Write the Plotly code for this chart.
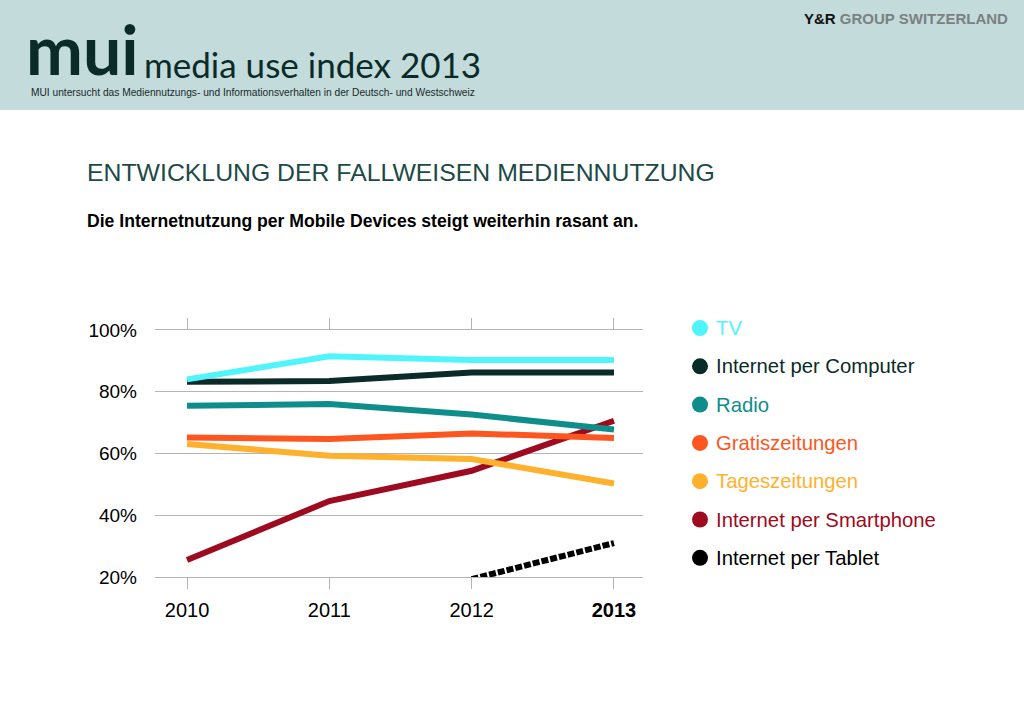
import plotly.graph_objects as go

years = [2010, 2011, 2012, 2013]
year_labels = ["2010", "2011", "2012", "<b>2013</b>"]

series_names = ["TV", "Internet per Computer", "Radio", "Gratiszeitungen",
                "Tageszeitungen", "Internet per Smartphone", "Internet per Tablet"]
tv = [84, 91.5, 90.3, 90.3]
computer = [83.2, 83.5, 86.2, 86.2]
radio = [75.5, 76, 72.6, 67.8]
gratis = [65.2, 64.7, 66.5, 65]
tages = [63.1, 59.3, 58.2, 50.3]
smartphone = [25.5, 44.6, 54.4, 70.6]
tablet = [None, None, 19.3, 31]
series_values = [tv, computer, radio, gratis, tages, smartphone, tablet]
series_colors = ["#4ff5fb", "#0b2b29", "#0e8d8a", "#fd5620", "#ffb12d", "#9e0a20", "#000000"]

y_ticks = [20, 40, 60, 80, 100]
y_tick_labels = ["20%", "40%", "60%", "80%", "100%"]

W, H = 1024, 723
L, R, T, B = 155, 643, 330, 577


def px(x):
    return (x - L) / (R - L)


def py(y):
    return (B - y) / (B - T)


fig = go.Figure()
for i in reversed(range(len(series_names))):
    dash = "7px,2px" if series_names[i] == "Internet per Tablet" else "solid"
    fig.add_trace(go.Scatter(
        x=years, y=series_values[i], mode="lines", name=series_names[i],
        line=dict(color=series_colors[i], width=6, dash=dash),
        showlegend=False, connectgaps=False, hoverinfo="skip"))

shapes = [
    dict(type="rect", xref="paper", yref="paper", x0=px(-5), x1=px(W + 5), y0=py(-5), y1=py(110),
         fillcolor="#c3dbdb", line=dict(width=0), layer="below"),
]
annotations = [
    dict(text="<b>mui</b>", x=px(24), y=py(48), xanchor="left", yanchor="middle",
         font=dict(family="Lato", size=68, color="#0b2b29"), showarrow=False,
         xref="paper", yref="paper"),
    dict(text="media use index 2013", x=px(142), y=py(64), xanchor="left", yanchor="middle",
         font=dict(family="Lato", size=35, color="#0b2b29"), showarrow=False,
         xref="paper", yref="paper"),
    dict(text="MUI untersucht das Mediennutzungs- und Informationsverhalten in der Deutsch- und Westschweiz",
         x=px(29), y=py(92), xanchor="left", yanchor="middle",
         font=dict(family="Liberation Sans", size=10.2, color="#1a2a2a"), showarrow=False,
         xref="paper", yref="paper"),
    dict(text="<b>Y&amp;R</b> <b><span style='color:#7b8182'>GROUP SWITZERLAND</span></b>",
         x=px(1010), y=py(18), xanchor="right", yanchor="middle",
         font=dict(family="Liberation Sans", size=15, color="#111111"), showarrow=False,
         xref="paper", yref="paper"),
    dict(text="ENTWICKLUNG DER FALLWEISEN MEDIENNUTZUNG", x=px(85), y=py(172),
         xanchor="left", yanchor="middle",
         font=dict(family="Liberation Sans", size=24.8, color="#1d4a47"), showarrow=False,
         xref="paper", yref="paper"),
    dict(text="<b>Die Internetnutzung per Mobile Devices steigt weiterhin rasant an.</b>",
         x=px(85), y=py(221), xanchor="left", yanchor="middle",
         font=dict(family="Liberation Sans", size=17.6, color="#000000"), showarrow=False,
         xref="paper", yref="paper"),
]

leg_y0, leg_dy = 328, 38.3
for i, name in enumerate(series_names):
    yy = leg_y0 + i * leg_dy
    shapes.append(dict(type="circle", xref="paper", yref="paper",
                       x0=px(692), x1=px(708), y0=py(yy + 8), y1=py(yy - 8),
                       fillcolor=series_colors[i], line=dict(width=0)))
    annotations.append(dict(text=name, x=px(714), y=py(yy), xanchor="left", yanchor="middle",
                            font=dict(family="Liberation Sans", size=20.3, color=series_colors[i]),
                            showarrow=False, xref="paper", yref="paper"))

fig.update_layout(
    width=W, height=H, autosize=False,
    margin=dict(l=L, r=W - R, t=T, b=H - B, pad=0),
    paper_bgcolor="white", plot_bgcolor="white",
    showlegend=False,
    shapes=shapes, annotations=annotations,
    font=dict(family="Liberation Sans", color="#000000"),
    xaxis=dict(range=[2009.775, 2013.204], tickmode="array", tickvals=years, ticktext=year_labels,
               showgrid=False, zeroline=False, showline=True, linecolor="#b4b4b4", linewidth=1,
               mirror="ticks", ticks="outside", ticklen=11, tickcolor="#b4b4b4", tickwidth=1,
               tickfont=dict(size=20, color="#000000"), ticklabelstandoff=4, fixedrange=True),
    yaxis=dict(range=[20, 100], tickmode="array", tickvals=y_ticks, ticktext=y_tick_labels,
               showgrid=True, gridcolor="#b4b4b4", gridwidth=1, zeroline=False, showline=False,
               ticks="", tickfont=dict(size=19, color="#000000"), ticklabelstandoff=17,
               fixedrange=True),
)

fig.write_html("out.html", config={"responsive": False, "displayModeBar": False},
               post_script="document.body.style.margin='0';document.body.style.overflow='hidden';")
